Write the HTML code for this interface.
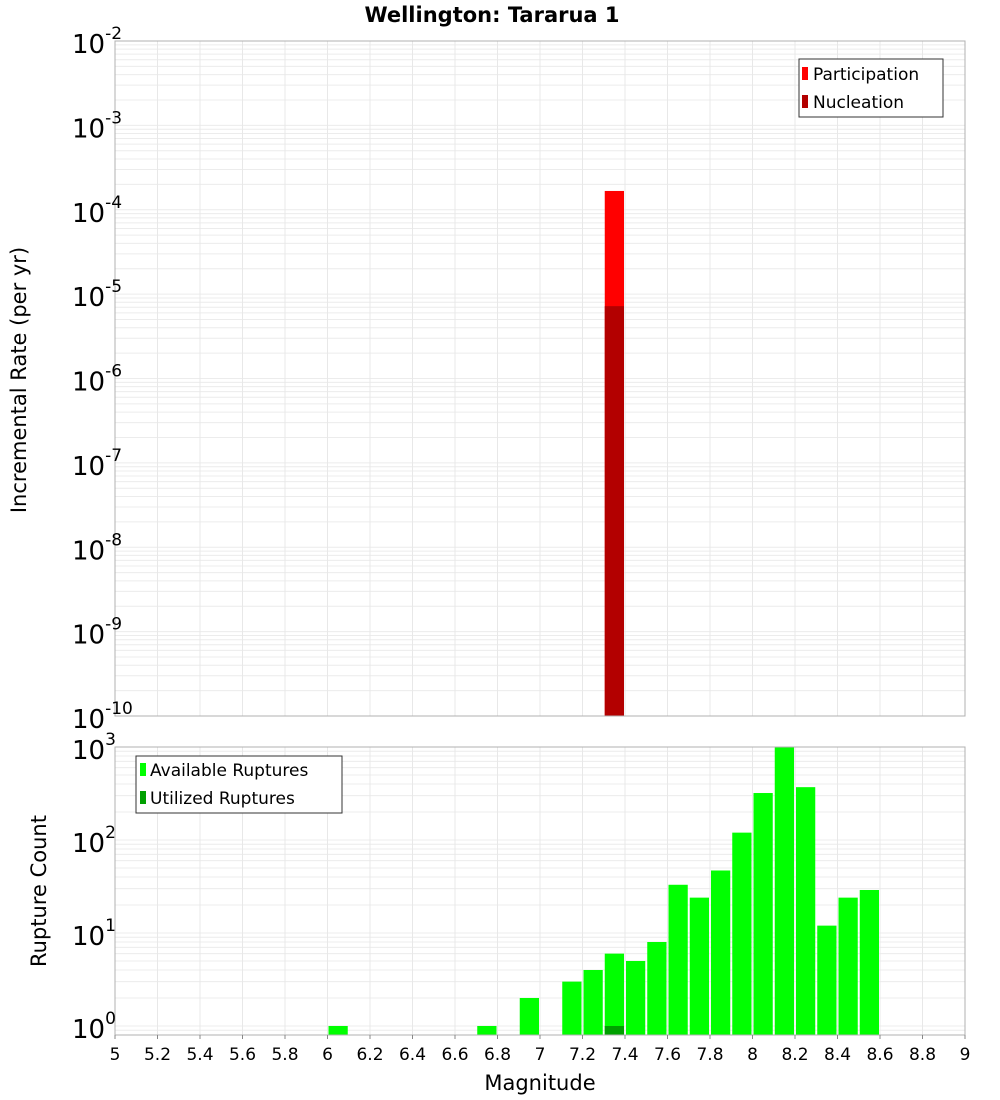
<!DOCTYPE html>
<html><head><meta charset="utf-8"><style>body{margin:0;background:#fff}svg{display:block;font-family:"DejaVu Sans","Liberation Sans",sans-serif}</style></head>
<body>
<svg id="c" width="1000" height="1100" xmlns="http://www.w3.org/2000/svg"></svg>
<script>
const partBins=[7.35];
const partVals=[1.67e-4];
const nuclBins=[7.35];
const nuclVals=[7.2e-6];
const availBins=[6.05,6.75,6.95,7.15,7.25,7.35,7.45,7.55,7.65,7.75,7.85,7.95,8.05,8.15,8.25,8.35,8.45,8.55];
const availVals=[1,1,2,3,4,6,5,8,33,24,47,120,320,1000,370,12,24,29];
const utilBins=[7.35];
const utilVals=[1];
const xTicks=[5,5.2,5.4,5.6,5.8,6,6.2,6.4,6.6,6.8,7,7.2,7.4,7.6,7.8,8,8.2,8.4,8.6,8.8,9];
const xTickLabels=["5","5.2","5.4","5.6","5.8","6","6.2","6.4","6.6","6.8","7","7.2","7.4","7.6","7.8","8","8.2","8.4","8.6","8.8","9"];
const topExps=[-2,-3,-4,-5,-6,-7,-8,-9,-10];
const botExps=[0,1,2,3];

const svg=document.getElementById('c');const NS='http://www.w3.org/2000/svg';
function mk(t,a,p,txt){const e=document.createElementNS(NS,t);for(const k in a)e.setAttribute(k,a[k]);if(txt!==undefined)e.textContent=txt;(p||svg).appendChild(e);return e;}
const L=115,R=965;
const X=v=>L+(v-5)/4*(R-L);
const T={t:41,b:716,lo:-10,hi:-2};
const B={t:747,b:1035,lo:Math.log10(0.8),hi:3};
const Y=(p,v)=>p.b-(Math.log10(v)-p.lo)/(p.hi-p.lo)*(p.b-p.t);
function grid(p,g){
  for(let d=Math.floor(p.lo);d<p.hi;d++)for(let m=1;m<10;m++){const v=m*Math.pow(10,d);const y=Y(p,v);if(y<p.t-0.5||y>p.b+0.5)continue;
    const e=mk('line',{x1:L,x2:R,y1:y,y2:y,stroke:'#ececec','stroke-width':1},g);}
  xTicks.forEach(t=>{const e=mk('line',{x1:X(t),x2:X(t),y1:p.t,y2:p.b,stroke:'#e8e8e8','stroke-width':1},g);});
}
function bars(p,bins,vals,color,g,name){
  bins.forEach((b,i)=>{const x0=X(b-0.05)+1,x1=X(b+0.05)-1;const y=Y(p,vals[i]);
    const e=mk('rect',{x:x0,y:y,width:x1-x0,height:p.b-y,fill:color},g);});
}
function ylab(p,exps,g){
  exps.forEach(d=>{const y=Y(p,Math.pow(10,d));const t=mk('text',{x:72,y:y+12,'font-size':26,fill:'#000'},g);
    
    mk('tspan',{},t,'10');mk('tspan',{dy:-14,'font-size':17},t,String(d));});
}
const gt=mk('g',{});
grid(T,gt);
bars(T,partBins,partVals,'#ff0000',gt,'participation-bar');
bars(T,nuclBins,nuclVals,'#b30000',gt,'nucleation-bar');
mk('rect',{x:L,y:T.t,width:R-L,height:T.b-T.t,fill:'none',stroke:'#b0b0b0'},gt);
ylab(T,topExps,gt);
const gb=mk('g',{});
grid(B,gb);
bars(B,availBins,availVals,'#00ff00',gb,'available-bar');
bars(B,utilBins,utilVals,'#00a000',gb,'utilized-bar');
mk('rect',{x:L,y:B.t,width:R-L,height:B.b-B.t,fill:'none',stroke:'#b0b0b0'},gb);
ylab(B,botExps,gb);
xTicks.forEach((t,i)=>{mk('line',{x1:X(t),x2:X(t),y1:B.b,y2:B.b+4,stroke:'#888'},gb);
  const e=mk('text',{x:X(t),y:1060,'font-size':17,'text-anchor':'middle'},gb,xTickLabels[i]);});
</script>
<svg style="position:absolute;left:0;top:0" width="1000" height="1100" xmlns="http://www.w3.org/2000/svg" font-family="DejaVu Sans, Liberation Sans, sans-serif">
<text x="492" y="22" font-size="21" font-weight="bold" text-anchor="middle">Wellington: Tararua 1</text>
<text transform="translate(26,380) rotate(-90)" font-size="21" text-anchor="middle">Incremental Rate (per yr)</text>
<text transform="translate(46,891) rotate(-90)" font-size="21" text-anchor="middle">Rupture Count</text>
<text x="540" y="1090" font-size="21" text-anchor="middle">Magnitude</text>
<g>
<rect x="799" y="59" width="144" height="58" fill="#fff" stroke="#333"/>
<rect x="802" y="67" width="6" height="13" fill="#ff0000"/><text x="813" y="80" font-size="17">Participation</text>
<rect x="802" y="95" width="6" height="13" fill="#b30000"/><text x="813" y="108" font-size="17">Nucleation</text>
</g>
<g>
<rect x="136" y="756" width="206" height="57" fill="#fff" stroke="#333"/>
<rect x="140" y="763" width="6" height="13" fill="#00ff00"/><text x="150" y="776" font-size="17">Available Ruptures</text>
<rect x="140" y="791" width="6" height="13" fill="#00a000"/><text x="150" y="804" font-size="17">Utilized Ruptures</text>
</g>
</svg>
</body></html>
